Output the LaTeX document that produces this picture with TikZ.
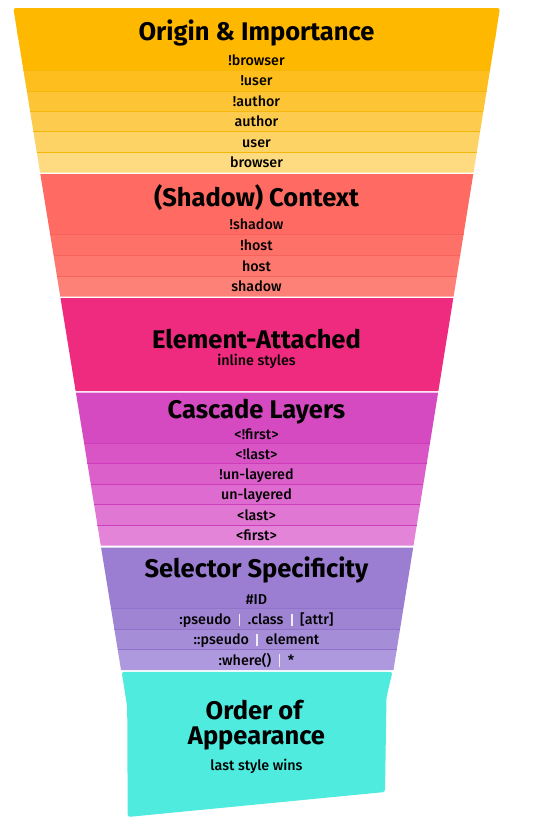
\documentclass[tikz,border=0pt]{standalone}
\usepackage{fontspec}
\setmainfont{Fira Sans}[UprightFont=* Medium, BoldFont=* Bold]
\definecolor{oA}{HTML}{FFB800}
\definecolor{oB}{HTML}{FDBE1E}
\definecolor{oC}{HTML}{FDC536}
\definecolor{oD}{HTML}{FDCB4E}
\definecolor{oE}{HTML}{FED365}
\definecolor{oF}{HTML}{FEDB80}
\definecolor{oL}{HTML}{F6B70C}
\definecolor{sA}{HTML}{FF6A62}
\definecolor{sB}{HTML}{FE7168}
\definecolor{sC}{HTML}{FE786F}
\definecolor{sD}{HTML}{FE8178}
\definecolor{sL}{HTML}{F5635B}
\definecolor{eA}{HTML}{EE2B7F}
\definecolor{cA}{HTML}{D64AC1}
\definecolor{cB}{HTML}{D955C6}
\definecolor{cC}{HTML}{DB60CA}
\definecolor{cD}{HTML}{DE6BCF}
\definecolor{cE}{HTML}{E077D3}
\definecolor{cF}{HTML}{E384D8}
\definecolor{cL}{HTML}{CC3CBB}
\definecolor{pA}{HTML}{9B7DD1}
\definecolor{pB}{HTML}{A084D4}
\definecolor{pC}{HTML}{A68DD8}
\definecolor{pD}{HTML}{AE99DE}
\definecolor{pL}{HTML}{9172CA}
\definecolor{tA}{HTML}{4EEBDE}
\definecolor{barc}{HTML}{F1ECFA}
\newcommand\fband[3]{\fill[#3] ({xl(#1)},#1) -- ({xr(#1)},#1) -- ({xr(#2)},#2) -- ({xl(#2)},#2) -- cycle;}
\newcommand\fsep[2]{\draw[#2, line width=0.8pt] ({xl(#1)},#1) -- ({xr(#1)},#1);}
\newcommand\vbar{\hspace{7.5pt}\textcolor{barc}{\rule[-1.5pt]{1.8pt}{12.5pt}}\hspace{7.5pt}}
\tikzset{
  declare function={xl(\t)=13.3+(\t-8)*0.1627; xr(\t)=500-(\t-8)*0.1609;},
  ttl/.style={font=\bfseries\fontsize{25.5}{27}\selectfont, text=black, inner sep=0pt, anchor=base},
  rowt/.style={font=\fontsize{14.3}{16}\selectfont, text=black, inner sep=0pt, anchor=base},
}
\begin{document}
\begin{tikzpicture}[x=1pt,y=-1pt]
\useasboundingbox (0,0) rectangle (545,825);
% ---- Origin & Importance
\fill[oA, rounded corners=2.5pt] ({xl(40)},40) -- (13.3,8) -- (500,8) -- ({xr(40)},40) -- cycle;
\fband{30}{70}{oA}
\fband{70}{91}{oB}
\fband{91}{111}{oC}
\fband{111}{131.5}{oD}
\fband{131.5}{152}{oE}
\fband{152}{172.5}{oF}
\fsep{70}{oL}\fsep{91}{oL}\fsep{111}{oL}\fsep{131.5}{oL}\fsep{152}{oL}
% ---- (Shadow) Context
\fband{174}{234}{sA}
\fband{234}{255.7}{sB}
\fband{255.7}{276.7}{sC}
\fband{276.7}{296.7}{sD}
\fsep{234}{sL}\fsep{255.7}{sL}\fsep{276.7}{sL}
% ---- Element-Attached
\fband{298.2}{391}{eA}
% ---- Cascade Layers
\fband{392.7}{443.7}{cA}
\fband{443.7}{463.7}{cB}
\fband{463.7}{484.3}{cC}
\fband{484.3}{504.3}{cD}
\fband{504.3}{525.3}{cE}
\fband{525.3}{545.7}{cF}
\fsep{443.7}{cL}\fsep{463.7}{cL}\fsep{484.3}{cL}\fsep{504.3}{cL}\fsep{525.3}{cL}
% ---- Selector Specificity
\fband{547.5}{608.7}{pA}
\fband{608.7}{629.7}{pB}
\fband{629.7}{649.3}{pC}
\fband{649.3}{670}{pD}
\fsep{608.7}{pL}\fsep{629.7}{pL}\fsep{649.3}{pL}
% ---- Order of Appearance
\fill[tA, rounded corners=2.5pt] (121.7,671.8) -- (392.5,671.8) -- (386.5,697) -- (385,792) -- (127.7,817) -- (127.2,707) -- cycle;
% ---- texts
\node[ttl] (t1) at (256.5,40) {Origin \& Importance};
\node[rowt] (r11) at (256.5,65.5) {!browser};
\node[rowt] (r12) at (256.5,85.5) {!user};
\node[rowt] (r13) at (256.5,106) {!author};
\node[rowt] (r14) at (256.5,126.5) {author};
\node[rowt] (r15) at (256.5,147) {user};
\node[rowt] (r16) at (256.5,167.5) {browser};
\node[ttl] (t2) at (256.5,206.5) {(Shadow) Context};
\node[rowt] (r21) at (256.5,229.3) {!shadow};
\node[rowt] (r22) at (256.5,250) {!host};
\node[rowt] (r23) at (256.5,271.3) {host};
\node[rowt] (r24) at (256.5,291.8) {shadow};
\node[ttl] (t3) at (256.5,348.3) {Element-Attached};
\node[rowt] (r31) at (256.5,365) {inline styles};
\node[ttl] (t4) at (256.5,418.3) {Cascade Layers};
\node[rowt] (r41) at (256.5,439.3) {<!first>};
\node[rowt] (r42) at (256.5,459) {<!last>};
\node[rowt] (r43) at (256.5,479.3) {!un-layered};
\node[rowt] (r44) at (256.5,499.6) {un-layered};
\node[rowt] (r45) at (256.5,520) {<last>};
\node[rowt] (r46) at (256.5,540.8) {<first>};
\node[ttl] (t5) at (256.5,577.3) {Selector Specificity};
\node[rowt] (r51) at (256.5,604) {\#ID};
\node[rowt] (r52) at (256.5,624.5) {:pseudo\vbar.class\vbar[attr]};
\node[rowt] (r53) at (256.5,644.8) {::pseudo\vbar element};
\node[rowt] (r54) at (256.5,665) {:where()\vbar *};
\node[ttl] (t6) at (254,719.3) {Order of};
\node[ttl] (t7) at (256.5,744) {Appearance};
\node[rowt] (r61) at (256.5,770.7) {last style wins};
\end{tikzpicture}
\end{document}
